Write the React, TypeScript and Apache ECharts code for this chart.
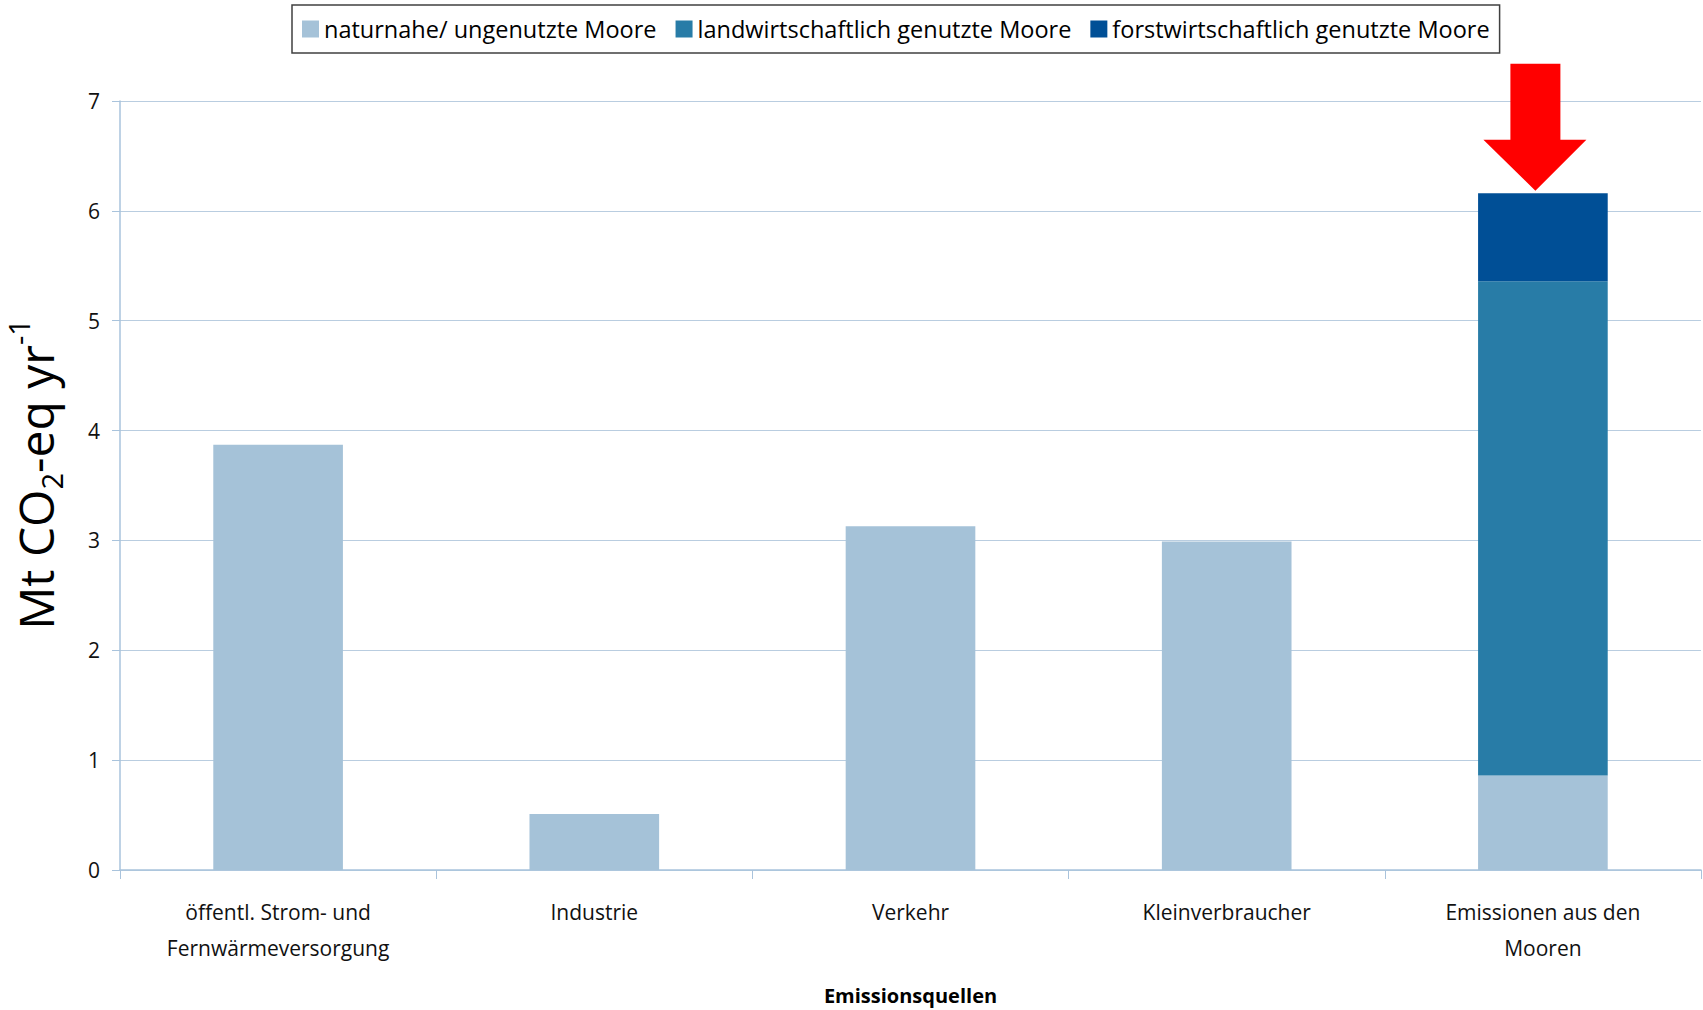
import React, { useEffect, useRef } from "react";
import * as echarts from "echarts";

// Emission sources (x axis categories)
const categories = [
  "öffentl. Strom- und\nFernwärmeversorgung",
  "Industrie",
  "Verkehr",
  "Kleinverbraucher",
  "Emissionen aus den\nMooren",
];

const seriesNames = [
  "naturnahe/ ungenutzte Moore",
  "landwirtschaftlich genutzte Moore",
  "forstwirtschaftlich genutzte Moore",
];

// Mt CO2-eq per year
const naturnahe = [3.87, 0.51, 3.13, 2.99, 0.86];
const landwirtschaftlich = [null, null, null, null, 4.5];
const forstwirtschaftlich = [null, null, null, null, 0.8];

const colors = ["#a5c2d8", "#287ca7", "#004f96"];

const yTicks = { min: 0, max: 7, interval: 1 };

const FONT = "'Open Sans', sans-serif";

// Down arrow pointing at the stacked moorland total
const ARROW_PATH = "path://M27,0 L77,0 L77,76 L103,76 L52,127 L0,76 L27,76 Z";

export default function App() {
  const ref = useRef<HTMLDivElement>(null);

  useEffect(() => {
    if (!ref.current) return;
    const chart = echarts.init(ref.current, null, { renderer: "svg" });
    const lastIdx = categories.length - 1;
    const mooreTotal =
      (naturnahe[lastIdx] || 0) +
      (landwirtschaftlich[lastIdx] || 0) +
      (forstwirtschaftlich[lastIdx] || 0);

    chart.setOption({
      animation: false,
      backgroundColor: "#ffffff",
      legend: {
        left: 292,
        top: 5,
        width: 1400,
        padding: [12, 10, 12, 10],
        borderColor: "#404040",
        borderWidth: 1.5,
        itemWidth: 17,
        itemHeight: 17,
        itemGap: 19,
        icon: "rect",
        textStyle: { fontFamily: FONT, fontSize: 23.5, color: "#000" },
        data: seriesNames,
      },
      grid: {
        left: 120,
        right: 2,
        top: 101,
        bottom: 140,
        containLabel: false,
        outerBoundsMode: "none",
      },
      xAxis: {
        type: "category",
        data: categories,
        name: "Emissionsquellen",
        nameLocation: "middle",
        nameGap: 115,
        nameTextStyle: { fontFamily: FONT, fontSize: 20, fontWeight: "bold", color: "#000" },
        axisLine: { show: true, lineStyle: { color: "#a9c3dc", width: 1.5 } },
        axisTick: { show: true, length: 9, lineStyle: { color: "#a9c3dc" } },
        axisLabel: {
          fontFamily: FONT,
          fontSize: 21,
          color: "#111",
          margin: 24,
          lineHeight: 36,
          interval: 0,
        },
      },
      yAxis: {
        type: "value",
        min: yTicks.min,
        max: yTicks.max,
        interval: yTicks.interval,
        name: "{a|Mt CO}{sub|2}{a|-eq yr}{sup|-1}",
        nameLocation: "middle",
        nameRotate: 90,
        nameGap: 54,
        nameTextStyle: {
          padding: [0, 0, 0, 22],
          rich: {
            a: { fontFamily: FONT, fontSize: 48, color: "#000", lineHeight: 62 },
            sub: { fontFamily: FONT, fontSize: 29, color: "#000", lineHeight: 29, verticalAlign: "bottom" },
            sup: { fontFamily: FONT, fontSize: 29, color: "#000", lineHeight: 29, verticalAlign: "top" },
          },
        },
        axisLine: { show: true, lineStyle: { color: "#a9c3dc", width: 1.5 } },
        axisTick: { show: true, length: 8, lineStyle: { color: "#a9c3dc" } },
        splitLine: { show: true, lineStyle: { color: "#b9cde0", width: 1 } },
        axisLabel: { fontFamily: FONT, fontSize: 21, color: "#111", margin: 20 },
      },
      series: [
        {
          name: seriesNames[0],
          type: "bar",
          stack: "total",
          barWidth: "41%",
          data: naturnahe,
          itemStyle: { color: colors[0] },
        },
        {
          name: seriesNames[1],
          type: "bar",
          stack: "total",
          barWidth: "41%",
          data: landwirtschaftlich,
          itemStyle: { color: colors[1] },
        },
        {
          name: seriesNames[2],
          type: "bar",
          stack: "total",
          barWidth: "41%",
          data: forstwirtschaftlich,
          itemStyle: { color: colors[2] },
          markPoint: {
            silent: true,
            symbol: ARROW_PATH,
            symbolSize: [103, 127],
            symbolKeepAspect: false,
            symbolOffset: [-8, -66],
            itemStyle: { color: "#ff0000" },
            label: { show: false },
            data: [{ coord: [lastIdx, mooreTotal] }],
          },
        },
      ],
    });

    return () => chart.dispose();
  }, []);

  return (
    <div
      ref={ref}
      style={{ position: "absolute", left: 0, top: 0, width: 1703, height: 1010 }}
    />
  );
}
